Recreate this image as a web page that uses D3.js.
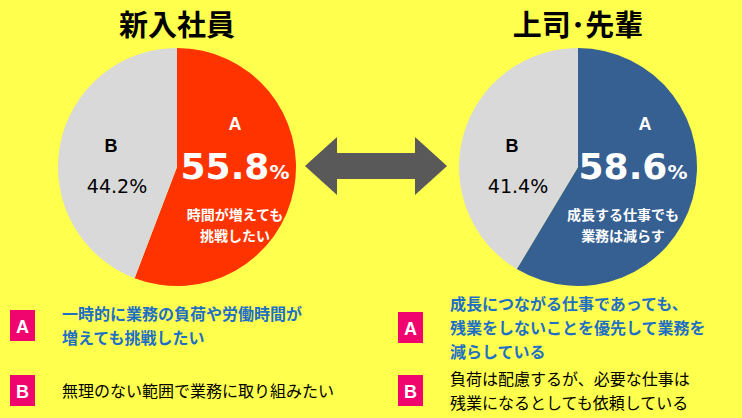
<!DOCTYPE html><html><head><meta charset="utf-8"><script src="https://cdn.jsdelivr.net/npm/d3@7"></script>
<style>body{margin:0;background:#FFFF4D}svg{font-family:"Noto Sans CJK JP",sans-serif}</style></head><body>
<svg id="c" width="742" height="418"></svg>
<script>
const titles=["新入社員","上司･先輩"];
const valuesA=[55.8,58.6];
const valuesB=[44.2,41.4];
const colorsA=["#FF3300","#376092"];
const insideA=[["時間が増えても","挑戦したい"],["成長する仕事でも","業務は減らす"]];
const legendA=[["一時的に業務の負荷や労働時間が","増えても挑戦したい"],["成長につながる仕事であっても、","残業をしないことを優先して業務を","減らしている"]];
const legendB=[["無理のない範囲で業務に取り組みたい"],["負荷は配慮するが、必要な仕事は","残業になるとしても依頼している"]];
const svg=d3.select("#c");
svg.append("rect").attr("width",742).attr("height",418).attr("fill","#FFFF4D");
const cx=[177,578],cy=167,r=119;
const pie=d3.pie().sort(null).value(d=>d);
const arc=d3.arc().innerRadius(0).outerRadius(r);
[0,1].forEach(i=>{
  const g=svg.append("g").attr("transform",`translate(${cx[i]},${cy})`);
  const arcs=pie([valuesA[i],valuesB[i]]);
  g.selectAll("path").data(arcs).join("path").attr("d",arc).attr("fill",(d,j)=>j?"#D9D9D9":colorsA[i]);
  svg.append("text").attr("x",cx[i]).attr("y",36).attr("text-anchor","middle").attr("font-size",29).attr("font-weight","bold").text(titles[i]);
  const ax=i?55:58;
  g.append("text").attr("x",ax+(i?12:0)).attr("y",-37).attr("text-anchor","middle").attr("fill","#fff").attr("font-size",18).attr("font-weight","bold").attr("font-family","Arial,sans-serif").text("A");
  const t=g.append("text").attr("x",ax).attr("y",12).attr("text-anchor","middle").attr("fill","#fff").attr("font-weight","bold").attr("font-family","Verdana,DejaVu Sans,sans-serif");
  t.append("tspan").attr("font-size",36).text(valuesA[i].toFixed(1));
  t.append("tspan").attr("font-size",20).text("%");
  insideA[i].forEach((s,k)=>g.append("text").attr("x",ax-(i?10:0)).attr("y",53+k*21).attr("text-anchor","middle").attr("fill","#fff").attr("font-size",14).attr("font-weight","bold").text(s));
  g.append("text").attr("x",-66).attr("y",-15).attr("text-anchor","middle").attr("font-size",18).attr("font-weight","bold").attr("font-family","Arial,sans-serif").text("B");
  g.append("text").attr("x",-60).attr("y",26).attr("text-anchor","middle").attr("font-size",19).attr("font-family","Verdana,DejaVu Sans,sans-serif").text(valuesB[i].toFixed(1)+"%");
  const lx=[10,398][i];
  [[legendA[i],"A",[310,312][i],"#1F6FC5","bold"],[legendB[i],"B",375,"#000","normal"]].forEach(([lines,lab,by,col,fw])=>{
    svg.append("rect").attr("x",lx).attr("y",by).attr("width",25).attr("height",31).attr("fill","#F0056E");
    svg.append("text").attr("x",lx+12.5).attr("y",by+23).attr("text-anchor","middle").attr("fill","#fff").attr("font-size",18).attr("font-weight","bold").attr("font-family","Arial,sans-serif").text(lab);
    const n=lines.length, lh=24;
    const y0=by+15.5-(n-1)*lh/2+6;
    lines.forEach((s,k)=>svg.append("text").attr("x",lx+52).attr("y",y0+k*lh).attr("font-size",16).attr("font-weight",fw).attr("fill",col).text(s));
  });
});
svg.append("path").attr("fill","#595959").attr("d","M305,166 L337,137 L337,153 L415,153 L415,137 L447,166 L415,195 L415,179 L337,179 L337,195 Z");
</script></body></html>
